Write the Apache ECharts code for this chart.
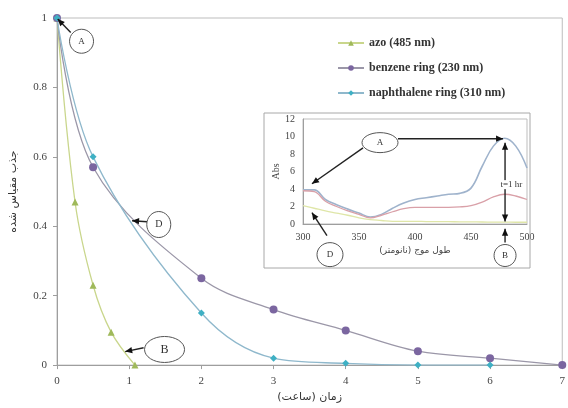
<!DOCTYPE html>
<html>
<head>
<meta charset="utf-8">
<script src="https://cdn.jsdelivr.net/npm/echarts@6/dist/echarts.min.js"></script>
<style>
  html, body { margin: 0; padding: 0; background: #fff; }
  #main { width: 568px; height: 408px; }
</style>
</head>
<body>
<div id="main"></div>
<script>
// main chart data (time in hours, normalised absorbance)
var azoX = [0, 0.25, 0.5, 0.75, 1.08];
var azoY = [1, 0.47, 0.23, 0.095, 0];
var benzX = [0, 0.5, 2, 3, 4, 5, 6, 7];
var benzY = [1, 0.57, 0.25, 0.16, 0.1, 0.04, 0.02, 0];
var naphX = [0, 0.5, 2, 3, 4, 5, 6];
var naphY = [1, 0.6, 0.15, 0.02, 0.005, 0, 0];
var legendNames = ['azo (485 nm)', 'benzene ring (230 nm)', 'naphthalene ring (310 nm)'];

// inset spectra
var wl = [300, 310, 320, 330, 340, 350, 360, 370, 380, 390, 400, 410, 420, 430, 440, 450, 460, 470, 480, 490, 500];
var spec0 = [3.9, 3.9, 2.8, 2.2, 1.7, 1.25, 0.8, 1.1, 1.8, 2.4, 2.8, 3.0, 3.2, 3.4, 3.5, 4.1, 6.6, 8.9, 9.8, 8.9, 6.4];
var spec1 = [3.8, 3.7, 2.6, 2.0, 1.5, 1.1, 0.7, 1.0, 1.4, 1.75, 1.9, 1.9, 1.9, 1.9, 1.95, 2.1, 2.5, 3.1, 3.4, 3.2, 2.8];
var spec2 = [2.1, 1.8, 1.5, 1.25, 1.0, 0.7, 0.5, 0.4, 0.3, 0.3, 0.3, 0.28, 0.27, 0.26, 0.25, 0.24, 0.23, 0.22, 0.21, 0.2, 0.2];

function pairs(xs, ys) {
    var out = [];
    for (var i = 0; i < xs.length; i++) out.push([xs[i], ys[i]]);
    return out;
}

var serif = "'Liberation Serif', 'DejaVu Serif', 'DejaVu Sans', serif";
var arab = "'DejaVu Sans', sans-serif";

var chart = echarts.init(document.getElementById('main'));

chart.setOption({
    animation: false,
    backgroundColor: '#fff',
    textStyle: { fontFamily: serif },
    legend: {
        orient: 'vertical',
        left: 332,
        top: 32,
        itemWidth: 26,
        itemHeight: 7,
        itemGap: 13,
        data: legendNames,
        textStyle: { fontFamily: serif, fontSize: 12, fontWeight: 'bold', color: '#333' }
    },
    grid: [
        { left: 57, right: 4, top: 18, bottom: 32, show: true, borderColor: '#bdbdbd', borderWidth: 1 },
        { left: 303, right: 41, top: 119, bottom: 184, show: true, borderColor: '#bdbdbd', borderWidth: 1 }
    ],
    xAxis: [
        {
            gridIndex: 0, type: 'value', min: 0, max: 7, interval: 1,
            name: 'زمان (ساعت)', nameLocation: 'middle', nameGap: 20,
            nameTextStyle: { fontFamily: arab, fontSize: 11, color: '#333' },
            axisLine: { lineStyle: { color: '#9e9e9e' } },
            axisTick: { length: 4, lineStyle: { color: '#9e9e9e' } },
            axisLabel: { fontSize: 11, color: '#444', margin: 11 },
            splitLine: { show: false }
        },
        {
            gridIndex: 1, type: 'value', min: 300, max: 500, interval: 50,
            name: 'طول موج (نانومتر)', nameLocation: 'middle', nameGap: 22,
            nameTextStyle: { fontFamily: arab, fontSize: 9, color: '#444' },
            axisLine: { lineStyle: { color: '#9e9e9e' } },
            axisTick: { show: false },
            axisLabel: { fontSize: 10, color: '#444', margin: 8 },
            splitLine: { show: false }
        }
    ],
    yAxis: [
        {
            gridIndex: 0, type: 'value', min: 0, max: 1, interval: 0.2,
            name: 'جذب مقیاس شده', nameLocation: 'middle', nameGap: 38,
            nameTextStyle: { fontFamily: arab, fontSize: 11, color: '#333' },
            axisLine: { show: true, lineStyle: { color: '#9e9e9e' } },
            axisTick: { show: true, length: 4, lineStyle: { color: '#9e9e9e' } },
            axisLabel: { fontSize: 11, color: '#444', margin: 10 },
            splitLine: { show: false }
        },
        {
            gridIndex: 1, type: 'value', min: 0, max: 12, interval: 2,
            name: 'Abs', nameLocation: 'middle', nameGap: 20,
            nameTextStyle: { fontFamily: serif, fontSize: 10, color: '#444' },
            axisLine: { show: true, lineStyle: { color: '#9e9e9e' } },
            axisTick: { show: false },
            axisLabel: { fontSize: 10, color: '#444', margin: 8 },
            splitLine: { show: false }
        }
    ],
    series: [
        {
            name: legendNames[0], type: 'line', xAxisIndex: 0, yAxisIndex: 0,
            data: pairs(azoX, azoY), smooth: 0.35,
            symbol: 'triangle', symbolSize: 7,
            lineStyle: { color: '#c9d68c', width: 1.3 },
            itemStyle: { color: '#9fb95a' }
        },
        {
            name: legendNames[1], type: 'line', xAxisIndex: 0, yAxisIndex: 0,
            data: pairs(benzX, benzY), smooth: 0.35,
            symbol: 'circle', symbolSize: 8,
            lineStyle: { color: '#9b97a8', width: 1.3 },
            itemStyle: { color: '#7b66a0' }
        },
        {
            name: legendNames[2], type: 'line', xAxisIndex: 0, yAxisIndex: 0,
            data: pairs(naphX, naphY), smooth: 0.35,
            symbol: 'diamond', symbolSize: 7,
            lineStyle: { color: '#8fb8cc', width: 1.3 },
            itemStyle: { color: '#3fb0c4' }
        },
        {
            type: 'line', xAxisIndex: 1, yAxisIndex: 1, data: pairs(wl, spec0),
            smooth: 0.4, showSymbol: false, lineStyle: { color: '#9fb3cc', width: 1.6 }
        },
        {
            type: 'line', xAxisIndex: 1, yAxisIndex: 1, data: pairs(wl, spec1),
            smooth: 0.4, showSymbol: false, lineStyle: { color: '#d9a0a8', width: 1.3 }
        },
        {
            type: 'line', xAxisIndex: 1, yAxisIndex: 1, data: pairs(wl, spec2),
            smooth: 0.4, showSymbol: false, lineStyle: { color: '#dfe6a8', width: 1.3 }
        }
    ]
});

// annotations, anchored in data coordinates of each grid
function px(g, x, y) {
    return chart.convertToPixel({ gridIndex: g }, [x, y]);
}
function ellipse(g, x, y, rx, ry, label, fs) {
    var p = px(g, x, y);
    return [
        { type: 'ellipse', shape: { cx: p[0], cy: p[1], rx: rx, ry: ry },
          style: { fill: '#fff', stroke: '#555', lineWidth: 1 }, z: 20 },
        { type: 'text', x: p[0], y: p[1],
          style: { text: label, fontFamily: serif, fontSize: fs, fill: '#333', align: 'center', verticalAlign: 'middle' }, z: 21 }
    ];
}
function head(x1, y1, x2, y2, size) {
    var a = Math.atan2(y2 - y1, x2 - x1);
    var w = size * 0.45;
    return { type: 'polygon', z: 20, style: { fill: '#111' },
        shape: { points: [
            [x2, y2],
            [x2 - size * Math.cos(a) + w * Math.sin(a), y2 - size * Math.sin(a) - w * Math.cos(a)],
            [x2 - size * Math.cos(a) - w * Math.sin(a), y2 - size * Math.sin(a) + w * Math.cos(a)]
        ] } };
}
function arrow(g, xa, ya, xb, yb, both) {
    var p1 = px(g, xa, ya), p2 = px(g, xb, yb);
    var out = [
        { type: 'line', z: 20, shape: { x1: p1[0], y1: p1[1], x2: p2[0], y2: p2[1] },
          style: { stroke: '#222', lineWidth: 1.4 } },
        head(p1[0], p1[1], p2[0], p2[1], 7)
    ];
    if (both) out.push(head(p2[0], p2[1], p1[0], p1[1], 7));
    return out;
}

var els = [
    { type: 'rect', shape: { x: 264, y: 113, width: 266, height: 155 },
      style: { fill: 'none', stroke: '#a8a8a8', lineWidth: 1 }, z: 1 }
];
// main chart
els = els.concat(arrow(0, 0.19, 0.958, 0.01, 0.997));
els = els.concat(ellipse(0, 0.34, 0.933, 12, 12, 'A', 9));
els = els.concat(arrow(0, 1.25, 0.413, 1.04, 0.416));
els = els.concat(ellipse(0, 1.41, 0.405, 12, 13, 'D', 10));
els = els.concat(arrow(0, 1.2, 0.05, 0.945, 0.039));
els = els.concat(ellipse(0, 1.49, 0.045, 20, 13, 'B', 12));
// inset
els = els.concat(arrow(1, 353.6, 8.7, 308, 4.6));
els = els.concat(arrow(1, 384.8, 9.75, 478.6, 9.75));
els = els.concat(ellipse(1, 368.75, 9.3, 18, 10, 'A', 9));
els = els.concat(arrow(1, 480.4, 9.3, 480.4, 0.3, true));
var tp = px(1, 486, 4.5);
els.push({ type: 'text', x: tp[0], y: tp[1], z: 22,
    style: { text: 't=1 hr', fontFamily: serif, fontSize: 9, fill: '#333', align: 'center',
             verticalAlign: 'middle', backgroundColor: '#fff' } });
els = els.concat(arrow(1, 480.4, -2.1, 480.4, -0.55));
els = els.concat(ellipse(1, 480.4, -3.6, 11, 11, 'B', 9));
els = els.concat(arrow(1, 321.4, -1.34, 308, 1.29));
els = els.concat(ellipse(1, 324.1, -3.5, 13, 12, 'D', 9));

chart.setOption({ graphic: { elements: els } });
</script>
</body>
</html>
